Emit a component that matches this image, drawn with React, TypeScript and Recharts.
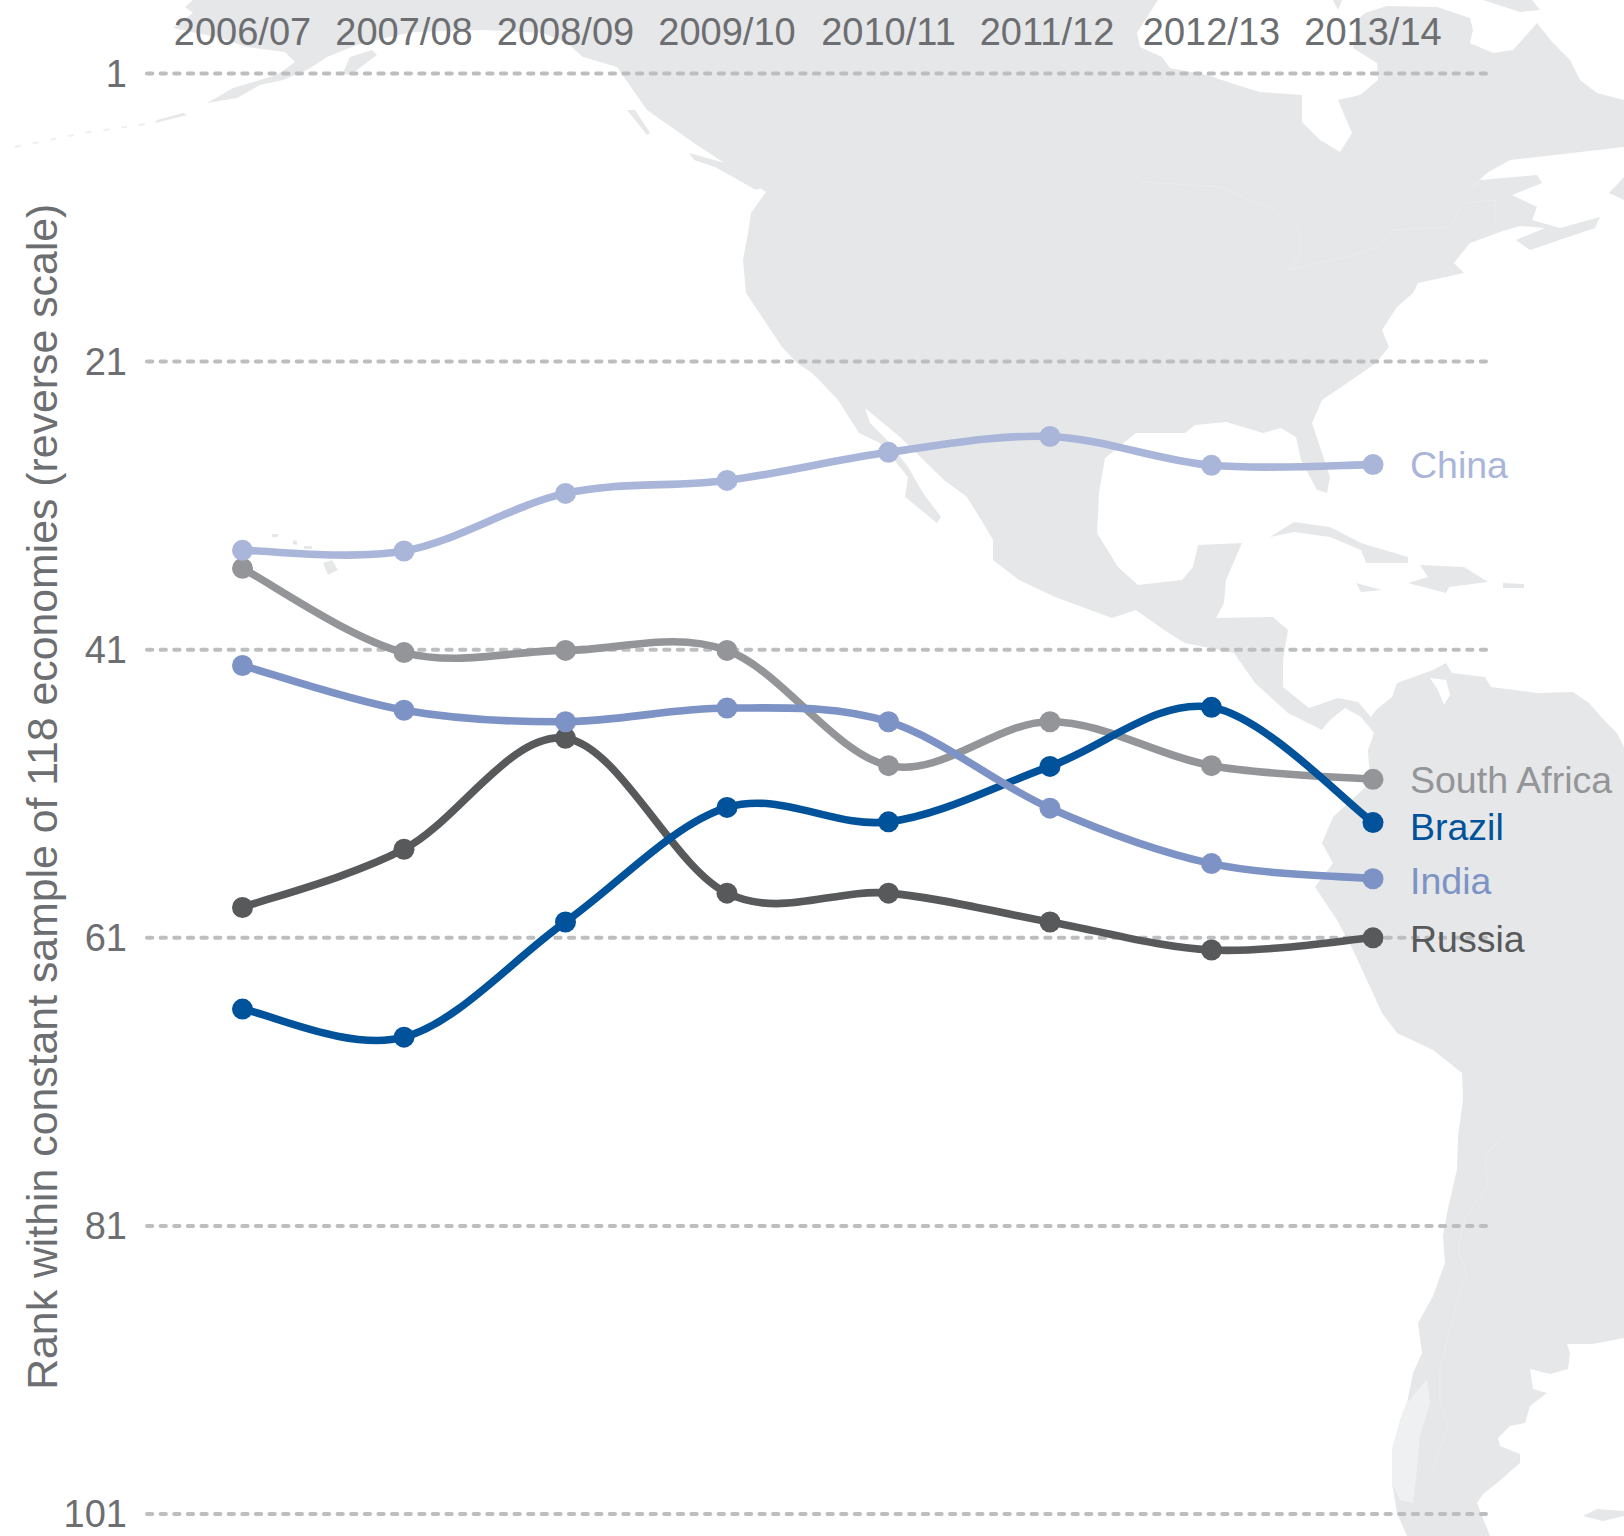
import React from "react";
import { LineChart, Line, XAxis, YAxis, CartesianGrid } from "recharts";

const years = ["2006/07", "2007/08", "2008/09", "2009/10", "2010/11", "2011/12", "2012/13", "2013/14"];
const china = [34.1, 34.15, 30.15, 29.25, 27.3, 26.2, 28.2, 28.15];
const southAfrica = [35.35, 41.2, 41.05, 41.05, 49.05, 46, 49.05, 50];
const india = [42.1, 45.2, 46, 45.05, 46, 52, 55.85, 56.9];
const russia = [58.9, 54.85, 47.15, 57.9, 57.9, 59.9, 61.85, 61];
const brazil = [65.95, 67.9, 59.9, 51.95, 52.95, 49.1, 45, 53];
const rankTicks = [1, 21, 41, 61, 81, 101];

const rows = years.map((year, i) => ({
  year,
  China: china[i],
  "South Africa": southAfrica[i],
  India: india[i],
  Russia: russia[i],
  Brazil: brazil[i],
}));

const seriesStyles = [
  { name: "Russia", color: "#58595b", labelShift: 1 },
  { name: "South Africa", color: "#939598", labelShift: 1 },
  { name: "Brazil", color: "#00529b", labelShift: 4 },
  { name: "India", color: "#7d93c6", labelShift: 2 },
  { name: "China", color: "#a9b6da", labelShift: 0 },
];

const FONT = "'Liberation Sans', Arial, sans-serif";
const TEXT = "#6d6e71";
const LAND = "#e6e7e8";

// Uniform Catmull-Rom curve with doubled end points
const catmullRom = (context: any) => {
  let pts: [number, number][] = [];
  return {
    areaStart() {},
    areaEnd() {},
    lineStart() {
      pts = [];
    },
    point(x: number, y: number) {
      pts.push([+x, +y]);
    },
    lineEnd() {
      if (!pts.length) return;
      context.moveTo(pts[0][0], pts[0][1]);
      for (let i = 0; i < pts.length - 1; i++) {
        const p0 = pts[Math.max(i - 1, 0)];
        const p1 = pts[i];
        const p2 = pts[i + 1];
        const p3 = pts[Math.min(i + 2, pts.length - 1)];
        context.bezierCurveTo(
          p1[0] + (p2[0] - p0[0]) / 6,
          p1[1] + (p2[1] - p0[1]) / 6,
          p2[0] - (p3[0] - p1[0]) / 6,
          p2[1] - (p3[1] - p1[1]) / 6,
          p2[0],
          p2[1]
        );
      }
    },
  };
};

// Background map outlines (decorative picture, not data)
const americas =
  "193,0 1158,0 1137,33 1140,47 1162,57 1170,68 1207,75 1237,85 1260,92 1302,95 1302,122 1320,140 1340,152 1352,133 1338,100 1360,95 1378,80 1377,63 1353,48 1357,20 1365,13 1387,6 1437,7 1470,18 1473,30 1470,43 1493,53 1513,50 1537,23 1553,43 1570,60 1580,80 1597,93 1624,100 1624,147 1510,160 1487,173 1453,205 1480,180 1537,175 1542,183 1512,195 1537,207 1532,220 1560,228 1600,217 1595,228 1530,250 1516,240 1545,228 1520,226 1500,232 1470,243 1454,263 1464,273 1418,283 1413,293 1397,307 1382,330 1389,347 1376,363 1356,377 1322,400 1312,423 1330,477 1327,493 1317,490 1301,460 1296,437 1281,428 1263,433 1226,422 1195,425 1185,433 1136,433 1105,458 1099,493 1097,533 1118,567 1138,585 1182,580 1193,567 1198,545 1242,543 1226,580 1224,603 1216,618 1273,617 1288,630 1283,660 1283,687 1299,700 1309,708 1338,698 1358,702 1371,717 1376,710 1392,697 1397,683 1433,670 1446,663 1452,673 1485,677 1491,687 1537,693 1573,692 1589,703 1604,720 1617,733 1624,747 1624,1338 1593,1344 1567,1344 1570,1353 1568,1369 1550,1374 1530,1369 1533,1389 1547,1393 1530,1406 1525,1423 1510,1426 1498,1438 1500,1446 1520,1454 1520,1463 1497,1483 1483,1494 1477,1503 1490,1536 1407,1536 1397,1513 1392,1483 1392,1449 1397,1443 1400,1420 1407,1403 1413,1373 1422,1353 1418,1323 1433,1296 1445,1263 1443,1236 1447,1213 1457,1169 1458,1136 1463,1100 1462,1073 1433,1050 1397,1033 1382,1013 1353,950 1337,920 1315,887 1333,863 1322,843 1333,817 1370,783 1368,750 1374,733 1361,717 1345,708 1330,720 1322,730 1288,713 1255,683 1234,653 1185,643 1164,630 1136,610 1112,618 1055,597 1019,580 993,560 993,540 983,523 967,497 944,480 900,437 865,408 870,423 890,443 908,467 923,493 941,517 937,523 905,497 908,477 880,443 859,433 838,400 822,383 812,373 797,363 782,347 766,323 746,293 743,260 748,233 751,213 766,192 735,170 694,143 647,110 633,90 617,67 583,57 567,43 543,33 483,30 413,32 385,38 357,45 327,57 307,70 283,80 260,85 237,98 207,103 233,88 277,75 295,62 285,52 247,47 220,38 173,28 193,13 185,7";
const islands = [
  "1270,537 1294,522 1330,527 1361,543 1408,557 1408,563 1366,563 1361,550 1330,537 1294,532",
  "1420,565 1464,567 1488,582 1449,587 1446,593 1408,583 1428,577",
  "1356,583 1382,590 1361,592",
  "1503,583 1524,584 1524,588 1503,588",
  "1536,167 1575,172 1560,170",
  "1624,177 1609,193 1624,200",
  "1583,1516 1597,1509 1624,1511 1624,1516 1603,1521",
  "350,57 372,50 377,55 350,75 343,73",
  "157,120 183,113 187,115 155,123",
  "627,110 635,110 650,133 647,135",
  "689,153 725,163 766,187 756,190 715,167 694,160",
  "323,563 332,560 338,570 328,575",
  "293,540 297,541 297,545 293,544",
  "304,546 312,546 312,549 304,549",
  "272,534 278,534 278,537 272,537",
  "1333,0 1342,0 1338,10",
  "1483,0 1532,0 1540,10 1520,12",
];
const speckle = "1427,1379 1430,1403 1420,1436 1417,1469 1413,1503 1400,1500 1392,1483 1392,1449 1400,1420 1407,1403";
const borders = [
  "1133,173 1143,182 1221,187 1273,210 1299,227 1301,253 1288,270 1345,257 1379,247 1392,230 1449,227 1464,203 1495,200 1495,223",
  "1503,1136 1485,1156 1487,1186 1465,1219 1458,1249 1467,1276 1458,1299 1450,1329 1440,1369 1440,1403 1448,1426 1433,1469",
];

const MapBackdrop = () => (
  <svg width={1624} height={1536} style={{ position: "absolute", left: 0, top: 0 }}>
    <polygon points={americas} fill={LAND} />
    {islands.map((p, i) => (
      <polygon key={i} points={p} fill={LAND} />
    ))}
    <polygon points={speckle} fill="#eff0f1" />
    <polygon points="1430,678 1438,690 1444,705 1450,695 1446,680" fill="#ffffff" />
    {borders.map((p, i) => (
      <polyline key={i} points={p} fill="none" stroke="#ebecee" strokeWidth={1} />
    ))}
    <polyline
      points="15,147 83,133 154,123"
      fill="none"
      stroke="#eeeff0"
      strokeWidth={2}
      strokeDasharray="6 12"
    />
  </svg>
);

const endLabel = (name: string, color: string, shift: number) => (props: any) => {
  if (props.index !== years.length - 1) return null;
  return (
    <text
      key={name}
      x={props.x + 37}
      y={props.y + 13 + shift}
      fill={color}
      fontFamily={FONT}
      fontSize={37.5}
    >
      {name}
    </text>
  );
};

const YearTick = (props: any) => {
  const nudge = props.payload.value === "2011/12" ? -3 : 0;
  return (
    <text
      x={props.x + nudge}
      y={45}
      textAnchor="middle"
      fill={TEXT}
      fontFamily={FONT}
      fontSize={38}
    >
      {props.payload.value}
    </text>
  );
};

export default function App() {
  return (
    <div style={{ position: "absolute", left: 0, top: 0, width: 1624, height: 1536, background: "#fff", overflow: "hidden" }}>
      <style>{`.recharts-cartesian-grid line { stroke-linecap: round; stroke-width: 4px; }`}</style>
      <MapBackdrop />
      <div style={{ position: "absolute", left: 0, top: 0 }}>
        <LineChart
          width={1624}
          height={1536}
          data={rows}
          margin={{ top: 0, right: 138, bottom: 22, left: 0 }}
        >
          <CartesianGrid
            vertical={false}
            stroke="#bcbec0"
            strokeWidth={4}
            strokeDasharray="5.3 8.31"
          />
          <XAxis
            dataKey="year"
            orientation="top"
            height={73.5}
            scale="point"
            padding={{ left: 95.5, right: 113 }}
            axisLine={false}
            tickLine={false}
            tickSize={0}
            interval={0}
            tick={YearTick}
          />
          <YAxis
            type="number"
            reversed
            domain={[1, 101]}
            ticks={rankTicks}
            interval={0}
            width={147}
            axisLine={false}
            tickLine={false}
            tickSize={0}
            tickMargin={20}
            tick={{ fill: TEXT, fontFamily: FONT, fontSize: 38 }}
            label={{
              value: "Rank within constant sample of 118 economies (reverse scale)",
              angle: -90,
              position: "center",
              dx: -31.5,
              dy: 3,
              fill: TEXT,
              fontFamily: FONT,
              fontSize: 42.8,
            }}
          />
          {seriesStyles.map((s) => (
            <Line
              key={s.name}
              dataKey={s.name}
              type={catmullRom as any}
              stroke={s.color}
              strokeWidth={7.6}
              dot={{ r: 10.5, fill: s.color, stroke: "none", strokeWidth: 0 }}
              activeDot={false}
              label={endLabel(s.name, s.color, s.labelShift)}
              isAnimationActive={false}
            />
          ))}
        </LineChart>
      </div>
    </div>
  );
}
